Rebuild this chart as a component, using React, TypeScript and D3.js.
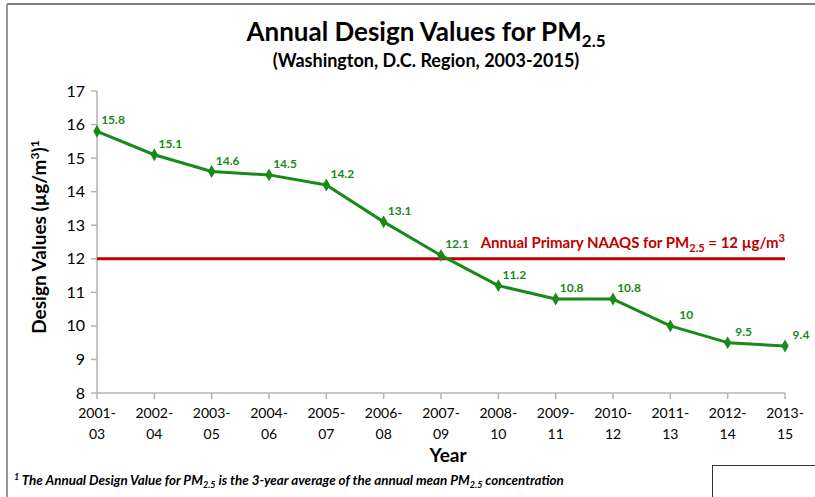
import * as d3 from 'd3';

const periods = ['2001-03', '2002-04', '2003-05', '2004-06', '2005-07', '2006-08', '2007-09', '2008-10', '2009-11', '2010-12', '2011-13', '2012-14', '2013-15'];
const designValues = [15.8, 15.1, 14.6, 14.5, 14.2, 13.1, 12.1, 11.2, 10.8, 10.8, 10, 9.5, 9.4];
const yTicks = [8, 9, 10, 11, 12, 13, 14, 15, 16, 17];
const naaqs = 12;

const width = 815;
const height = 497;
const marginLeft = 97;
const marginRight = 30;
const marginTop = 91;
const plotBottom = 393;

const font = 'Lato, "Open Sans", sans-serif';
const green = '#188a18';
const red = '#c00000';
const axisGray = '#b3b3b3';

function App() {
    const x = d3.scalePoint<string>()
        .domain(periods)
        .range([marginLeft, width - marginRight]);
    const y = d3.scaleLinear([8, 17], [plotBottom, marginTop]);

    const line = d3.line<number>((d, i) => x(periods[i]) ?? 0, d => y(d));
    const diamond = d3.symbol(d3.symbolDiamond, 48)() ?? undefined;

    return (
        <svg width={width} height={height} style={{ position: 'absolute', left: 0, top: 0, background: 'white' }} fontFamily={font}>
            {/* frame lines */}
            <line x1={7} x2={width} y1={4} y2={4} stroke="#555" strokeWidth={1.5} />
            <line x1={7} x2={7} y1={4} y2={height} stroke="#777" strokeWidth={1.5} />
            <rect x={712.5} y={465.5} width={110} height={40} fill="white" stroke="#333" strokeWidth={1} />

            {/* title */}
            <text x={426} y={41} textAnchor="middle" fontSize={26} fontWeight="bold">
                Annual Design Values for PM<tspan fontSize={17} dy={6}>2.5</tspan>
            </text>
            <text x={426} y={67} textAnchor="middle" fontSize={18} fontWeight="bold">
                (Washington, D.C. Region, 2003-2015)
            </text>

            {/* y axis */}
            <line x1={marginLeft} x2={marginLeft} y1={marginTop} y2={plotBottom} stroke={axisGray} strokeWidth={1.5} />
            {yTicks.map(t => (
                <g key={t} transform={`translate(0,${y(t)})`}>
                    <line x1={marginLeft - 6} x2={marginLeft} stroke={axisGray} strokeWidth={1.5} />
                    <text x={marginLeft - 12} dy="0.35em" textAnchor="end" fontSize={16}>{t}</text>
                </g>
            ))}
            <text transform={`translate(46,237) rotate(-90)`} textAnchor="middle" fontSize={19} fontWeight="bold">
                Design Values (µg/m<tspan fontSize={12} dy={-7}>3</tspan><tspan dy={7}>)</tspan><tspan fontSize={12} dy={-7}>1</tspan>
            </text>

            {/* x axis */}
            <line x1={marginLeft} x2={width - marginRight} y1={plotBottom} y2={plotBottom} stroke={axisGray} strokeWidth={1.5} />
            {periods.map(p => {
                const [a, b] = p.split('-');
                return (
                    <g key={p} transform={`translate(${x(p)},0)`}>
                        <line y1={plotBottom} y2={plotBottom + 6} stroke={axisGray} strokeWidth={1.5} />
                        <text y={418} textAnchor="middle" fontSize={14}>{a}-</text>
                        <text y={439} textAnchor="middle" fontSize={14}>{b}</text>
                    </g>
                );
            })}
            <text x={448} y={462} textAnchor="middle" fontSize={19} fontWeight="bold">Year</text>

            {/* NAAQS standard line */}
            <line x1={marginLeft} x2={width - marginRight} y1={y(naaqs)} y2={y(naaqs)} stroke={red} strokeWidth={3} />
            <text x={width - marginRight} y={y(naaqs) - 11} textAnchor="end" fontSize={15} fontWeight="bold" fill={red}>
                Annual Primary NAAQS for PM<tspan fontSize={11} dy={4}>2.5</tspan><tspan dy={-4}> = {naaqs} µg/m</tspan><tspan fontSize={11} dy={-6}>3</tspan>
            </text>

            {/* design value series */}
            <path d={line(designValues) ?? undefined} fill="none" stroke={green} strokeWidth={3} strokeLinejoin="round" />
            {designValues.map((d, i) => (
                <g key={periods[i]}>
                    <path d={diamond} transform={`translate(${x(periods[i])},${y(d)})`} fill={green} />
                    <text x={(x(periods[i]) ?? 0) + 16} y={y(d) - 7} textAnchor="middle" fontSize={12} fontWeight="bold" fill={green}>{d}</text>
                </g>
            ))}

            {/* footnote */}
            <text x={14} y={485} fontSize={13.4} fontWeight="bold" fontStyle="italic">
                <tspan fontSize={9} dy={-5}>1</tspan><tspan dy={5}> The Annual Design Value for PM</tspan><tspan fontSize={9} dy={3}>2.5</tspan><tspan dy={-3}> is the 3-year average of the annual mean PM</tspan><tspan fontSize={9} dy={3}>2.5</tspan><tspan dy={-3}> concentration</tspan>
            </text>
        </svg>
    );
}

export default App;
